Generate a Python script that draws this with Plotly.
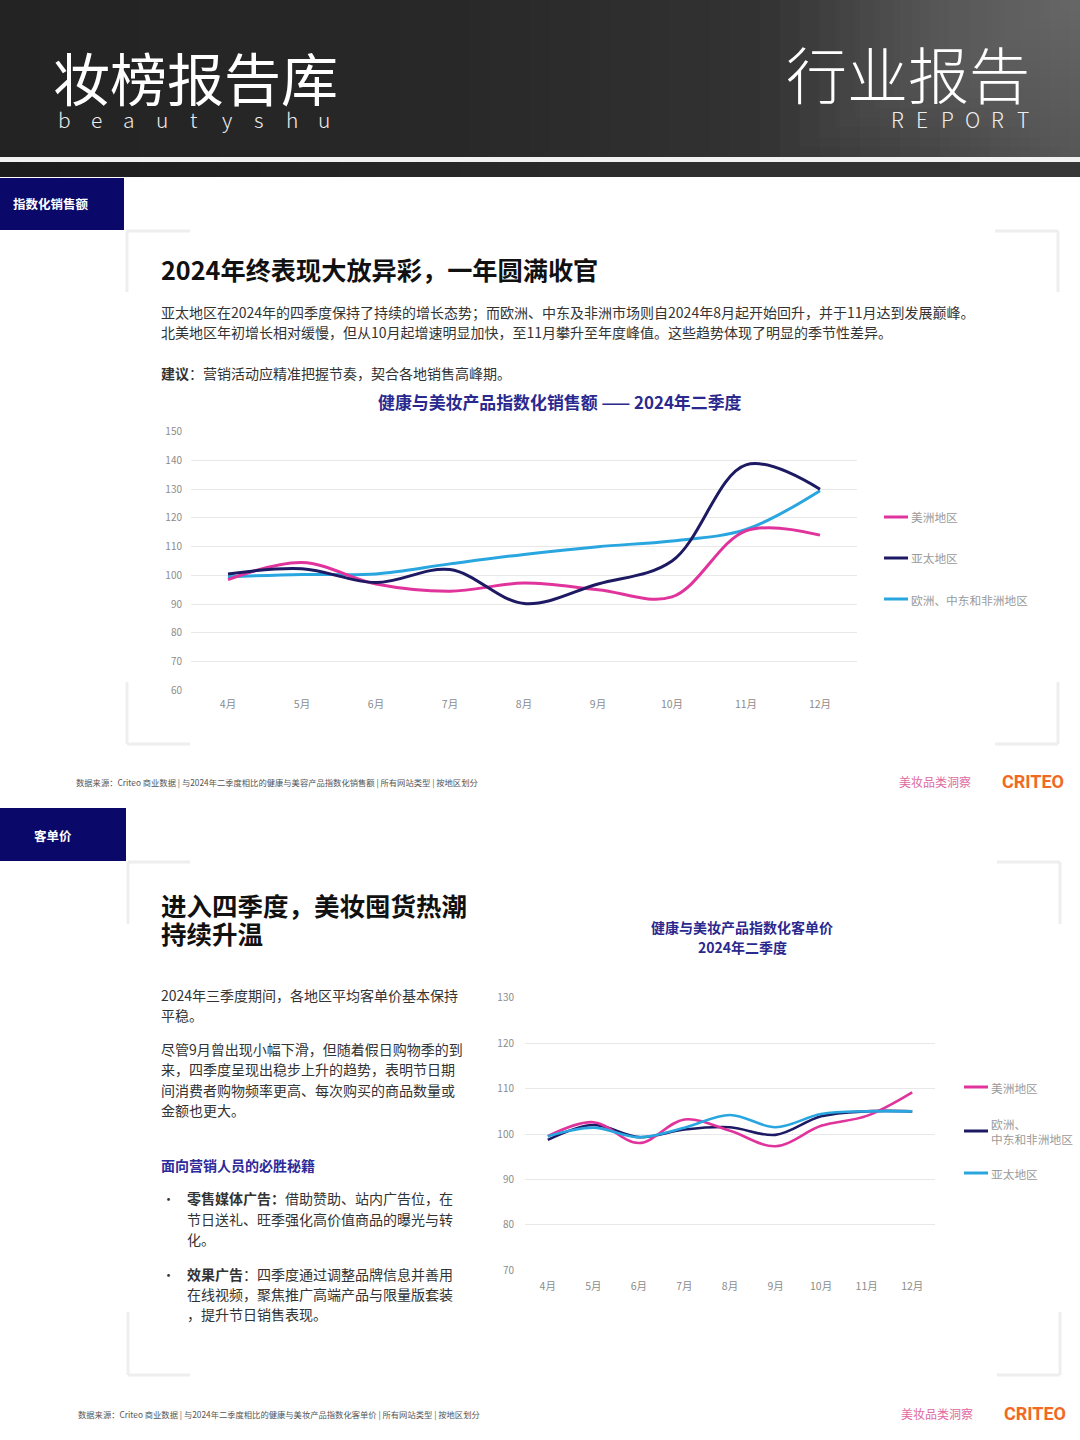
import plotly.graph_objects as go

# ---------------- data ----------------
months = ["4月", "5月", "6月", "7月", "8月", "9月", "10月", "11月", "12月"]

# Chart 1: 指数化销售额
sales_series_names = ["美洲地区", "亚太地区", "欧洲、中东和非洲地区"]
sales_americas = [98.5, 104.5, 97.0, 94.5, 97.3, 95.0, 92.5, 115.5, 114.0]
sales_apac = [100.5, 102.3, 97.5, 102.0, 90.2, 97.0, 105.0, 138.5, 130.0]
sales_emea = [99.5, 100.3, 100.5, 104.0, 107.3, 110.0, 112.0, 116.0, 129.5]
sales_yticks = [60, 70, 80, 90, 100, 110, 120, 130, 140, 150]

# Chart 2: 指数化客单价
aov_series_names = ["美洲地区", "欧洲、<br>中东和非洲地区", "亚太地区"]
aov_americas = [99.5, 102.6, 98.0, 103.2, 100.7, 97.3, 101.8, 104.0, 109.2]
aov_emea = [98.7, 102.0, 99.3, 101.0, 101.5, 99.8, 103.9, 105.0, 105.0]
aov_apac = [99.5, 101.4, 99.3, 101.4, 104.2, 101.5, 104.4, 105.0, 105.0]
aov_yticks = [70, 80, 90, 100, 110, 120, 130]

# ---------------- styling ----------------
W, H = 1080, 1440
PINK = "#e0339c"
NAVY = "#1d1a63"
BLUE = "#29a6e0"
TITLE_NAVY = "#2b288e"
FONT = "Noto Sans CJK SC, Noto Sans, sans-serif"
BODY = 14


def X(x):
    return x / W


def Y(y):
    return 1 - y / H


fig = go.Figure()

# chart 1 traces
for vals, name, color in [
    (sales_emea, sales_series_names[2], BLUE),
    (sales_americas, sales_series_names[0], PINK),
    (sales_apac, sales_series_names[1], NAVY),
]:
    fig.add_trace(go.Scatter(
        x=list(range(len(months))), y=vals, name=name, mode="lines",
        line=dict(color=color, width=3, shape="spline", smoothing=1.0),
        xaxis="x", yaxis="y", showlegend=False, hoverinfo="skip"))

# chart 2 traces
for vals, name, color in [
    (aov_emea, aov_series_names[1], NAVY),
    (aov_americas, aov_series_names[0], PINK),
    (aov_apac, aov_series_names[2], BLUE),
]:
    fig.add_trace(go.Scatter(
        x=list(range(len(months))), y=vals, name=name, mode="lines",
        line=dict(color=color, width=2.6, shape="spline", smoothing=1.0),
        xaxis="x2", yaxis="y2", showlegend=False, hoverinfo="skip"))

axis_common = dict(showgrid=False, zeroline=False, showline=False, ticks="", automargin=False,
                   tickfont=dict(family=FONT, size=10.5, color="#8c8c8c"))
yaxis_common = dict(showgrid=True, gridcolor="#e8e8e8", gridwidth=1, zeroline=False, automargin=False,
                    showline=False, ticks="", tickfont=dict(family=FONT, size=10, color="#8c8c8c"))

fig.update_layout(
    width=W, height=H, autosize=False,
    margin=dict(l=0, r=0, t=0, b=0, pad=0, autoexpand=False),
    paper_bgcolor="white", plot_bgcolor="rgba(0,0,0,0)",
    xaxis=dict(domain=[X(191), X(857)], range=[-0.5, 8.5], anchor="y",
               tickvals=list(range(len(months))), ticktext=months,
               ticklabelstandoff=6, **axis_common),
    yaxis=dict(domain=[Y(690.5), Y(431.5)], range=[59.9, 150.1], anchor="x",
               tickvals=sales_yticks, ticklabelstandoff=8, **yaxis_common),
    xaxis2=dict(domain=[X(525), X(935)], range=[-0.5, 8.5], anchor="y2",
                tickvals=list(range(len(months))), ticktext=months,
                ticklabelstandoff=8, **axis_common),
    yaxis2=dict(domain=[Y(1270.5), Y(997.5)], range=[69.9, 130.1], anchor="x2",
                tickvals=aov_yticks, ticklabelstandoff=10, **yaxis_common),
)

shapes = []
annotations = []


def rect(x0, y0, x1, y1, color, layer="below"):
    shapes.append(dict(type="rect", xref="paper", yref="paper",
                       x0=X(x0), x1=X(x1), y0=Y(y1), y1=Y(y0),
                       fillcolor=color, line=dict(width=0), layer=layer))


def line(x0, y0, x1, y1, color, width):
    shapes.append(dict(type="line", xref="paper", yref="paper",
                       x0=X(x0), x1=X(x1), y0=Y(y0), y1=Y(y1),
                       line=dict(color=color, width=width), layer="below"))


def text(x, y, t, size, color="#333333", xanchor="left", yanchor="middle",
         weight=None, family=FONT, align="left"):
    f = dict(family=family, size=size, color=color)
    if weight is not None:
        f["weight"] = weight
    annotations.append(dict(x=X(x), y=Y(y), xref="paper", yref="paper", text=t,
                            showarrow=False, xanchor=xanchor, yanchor=yanchor,
                            font=f, align=align, borderpad=0))


def lerp_color(c0, c1, t):
    a = [int(c0[i:i + 2], 16) for i in (1, 3, 5)]
    b = [int(c1[i:i + 2], 16) for i in (1, 3, 5)]
    return "#" + "".join(f"{int(round(a[k] + (b[k] - a[k]) * t)):02x}" for k in range(3))


# ---------------- header ----------------
stops = [(0, "#232323"), (450, "#282828"), (750, "#323232"), (950, "#464646"), (1080, "#565656")]
step = 10
for x0 in range(0, W, step):
    xc = x0 + step / 2
    for i in range(len(stops) - 1):
        if stops[i][0] <= xc <= stops[i + 1][0]:
            t = (xc - stops[i][0]) / (stops[i + 1][0] - stops[i][0])
            c = lerp_color(stops[i][1], stops[i + 1][1], t)
            break
    rect(x0, -2, x0 + step + 0.5, 157, c)
# soft highlight towards the top right corner
n_glow = 16
for k in range(n_glow):
    f = 1 - k / n_glow
    rect(1080 - 300 * f, -2, 1080, 157 * f, "rgba(255,255,255,0.012)")
rect(0, 157, W, 162, "#f2f2f2")
for x0 in range(0, W, 20):
    c = lerp_color("#1c1c1c", "#383838", x0 / W)
    rect(x0, 162, x0 + 20.5, 177, c)

text(52, 76, "妆榜报告库", 57, color="#ffffff", weight=400)
for i, ch in enumerate("beautyshu"):
    text(64 + 32.5 * i, 119, ch, 21, color="#eeeeee", xanchor="center", weight=300)
text(1031, 72, "行业报告", 61, color="#ffffff", xanchor="right", weight=300)
for i, ch in enumerate("REPORT"):
    text(897 + 25.2 * i, 119, ch, 21, color="#eeeeee", xanchor="center", weight=300)

# ---------------- section 1 ----------------
rect(0, 178, 124, 230, "#0a0868")
text(12, 204, "<b>指数化销售额</b>", 12.5, color="#ffffff")

BR = "#eeeeee"
# brackets card 1
line(127, 231, 190, 231, BR, 3); line(127, 231, 127, 292, BR, 3)
line(995, 231, 1058, 231, BR, 3); line(1058, 231, 1058, 292, BR, 3)
line(127, 682, 127, 744, BR, 3); line(127, 744, 190, 744, BR, 3)
line(1058, 682, 1058, 744, BR, 3); line(995, 744, 1058, 744, BR, 3)

text(160, 269, "<b>2024年终表现大放异彩，一年圆满收官</b>", 25.2, color="#111111")
text(160, 312, "亚太地区在2024年的四季度保持了持续的增长态势；而欧洲、中东及非洲市场则自2024年8月起开始回升，并于11月达到发展巅峰。", BODY, color="#333333")
text(160, 332, "北美地区年初增长相对缓慢，但从10月起增速明显加快，至11月攀升至年度峰值。这些趋势体现了明显的季节性差异。", BODY, color="#333333")
text(160, 373, "<b>建议</b>：营销活动应精准把握节奏，契合各地销售高峰期。", BODY, color="#333333")
text(560, 401, "<b>健康与美妆产品指数化销售额 —— 2024年二季度</b>", 16.9, color=TITLE_NAVY, xanchor="center")

# legend chart 1
for (name, color, yy) in [(sales_series_names[0], PINK, 517), (sales_series_names[1], NAVY, 558),
                          (sales_series_names[2], BLUE, 599)]:
    line(884, yy, 908, yy, color, 3)
    text(910, yy, name, 11.7, color="#9a9a9a")

# footer 1
text(75, 783, "数据来源：Criteo 商业数据 | 与2024年二季度相比的健康与美容产品指数化销售额 | 所有网站类型 | 按地区划分", 8.3, color="#555555")
text(935, 782, "美妆品类洞察", 12, color="#e06aa0", xanchor="center")
text(1065, 782, "<b>CRITEO</b>", 18, color="#f06a24", xanchor="right", family="Roboto, Lato, sans-serif", weight=900)

# ---------------- section 2 ----------------
rect(0, 808, 126, 861, "#0a0868")
text(53, 835, "<b>客单价</b>", 12.5, color="#ffffff", xanchor="center")

line(128, 862, 190, 862, BR, 3); line(128, 862, 128, 924, BR, 3)
line(997, 862, 1060, 862, BR, 3); line(1060, 862, 1060, 924, BR, 3)
line(128, 1312, 128, 1375, BR, 3); line(128, 1375, 190, 1375, BR, 3)
line(1060, 1312, 1060, 1375, BR, 3); line(997, 1375, 1060, 1375, BR, 3)

text(160, 904, "<b>进入四季度，美妆囤货热潮</b>", 25.5, color="#111111")
text(160, 932, "<b>持续升温</b>", 25.5, color="#111111")

para = [
    (995, "2024年三季度期间，各地区平均客单价基本保持"),
    (1015, "平稳。"),
    (1049, "尽管9月曾出现小幅下滑，但随着假日购物季的到"),
    (1069, "来，四季度呈现出稳步上升的趋势，表明节日期"),
    (1090, "间消费者购物频率更高、每次购买的商品数量或"),
    (1110, "金额也更大。"),
]
for yy, t in para:
    text(160, yy, t, BODY, color="#333333")

text(160, 1165, "<b>面向营销人员的必胜秘籍</b>", BODY, color="#2e2a9a")
text(161, 1198, "•", 13, color="#333333")
text(186, 1198, "<b>零售媒体广告：</b>借助赞助、站内广告位，在", BODY, color="#333333")
text(186, 1219, "节日送礼、旺季强化高价值商品的曝光与转", BODY, color="#333333")
text(186, 1239, "化。", BODY, color="#333333")
text(161, 1274, "•", 13, color="#333333")
text(186, 1274, "<b>效果广告</b>：四季度通过调整品牌信息并善用", BODY, color="#333333")
text(186, 1294, "在线视频，聚焦推广高端产品与限量版套装", BODY, color="#333333")
text(186, 1314, "，提升节日销售表现。", BODY, color="#333333")

text(742, 927, "<b>健康与美妆产品指数化客单价</b>", 14, color=TITLE_NAVY, xanchor="center")
text(742, 947, "<b>2024年二季度</b>", 14, color=TITLE_NAVY, xanchor="center")

# legend chart 2
for (name, color, yy) in [(aov_series_names[0], PINK, 1087),
                          (aov_series_names[1], NAVY, 1131),
                          (aov_series_names[2], BLUE, 1173)]:
    line(964, yy, 988, yy, color, 3)
    text(990, yy, name, 11.7, color="#9a9a9a")

# footer 2
text(77, 1414, "数据来源：Criteo 商业数据 | 与2024年二季度相比的健康与美妆产品指数化客单价 | 所有网站类型 | 按地区划分", 8.3, color="#555555")
text(937, 1413, "美妆品类洞察", 12, color="#e06aa0", xanchor="center")
text(1067, 1413, "<b>CRITEO</b>", 18, color="#f06a24", xanchor="right", family="Roboto, Lato, sans-serif", weight=900)

fig.update_layout(shapes=shapes, annotations=annotations)
fig.write_html(
    "out.html",
    config={"displayModeBar": False, "staticPlot": True},
    post_script=(
        "document.documentElement.style.margin='0';"
        "document.body.style.margin='0';document.body.style.padding='0';"
        "document.documentElement.style.overflow='hidden';"
        "var gd=document.getElementById('{plot_id}');"
        "gd.style.position='fixed';gd.style.top='0px';gd.style.left='0px';"
        "window.scrollTo(0,0);"
    ),
)
